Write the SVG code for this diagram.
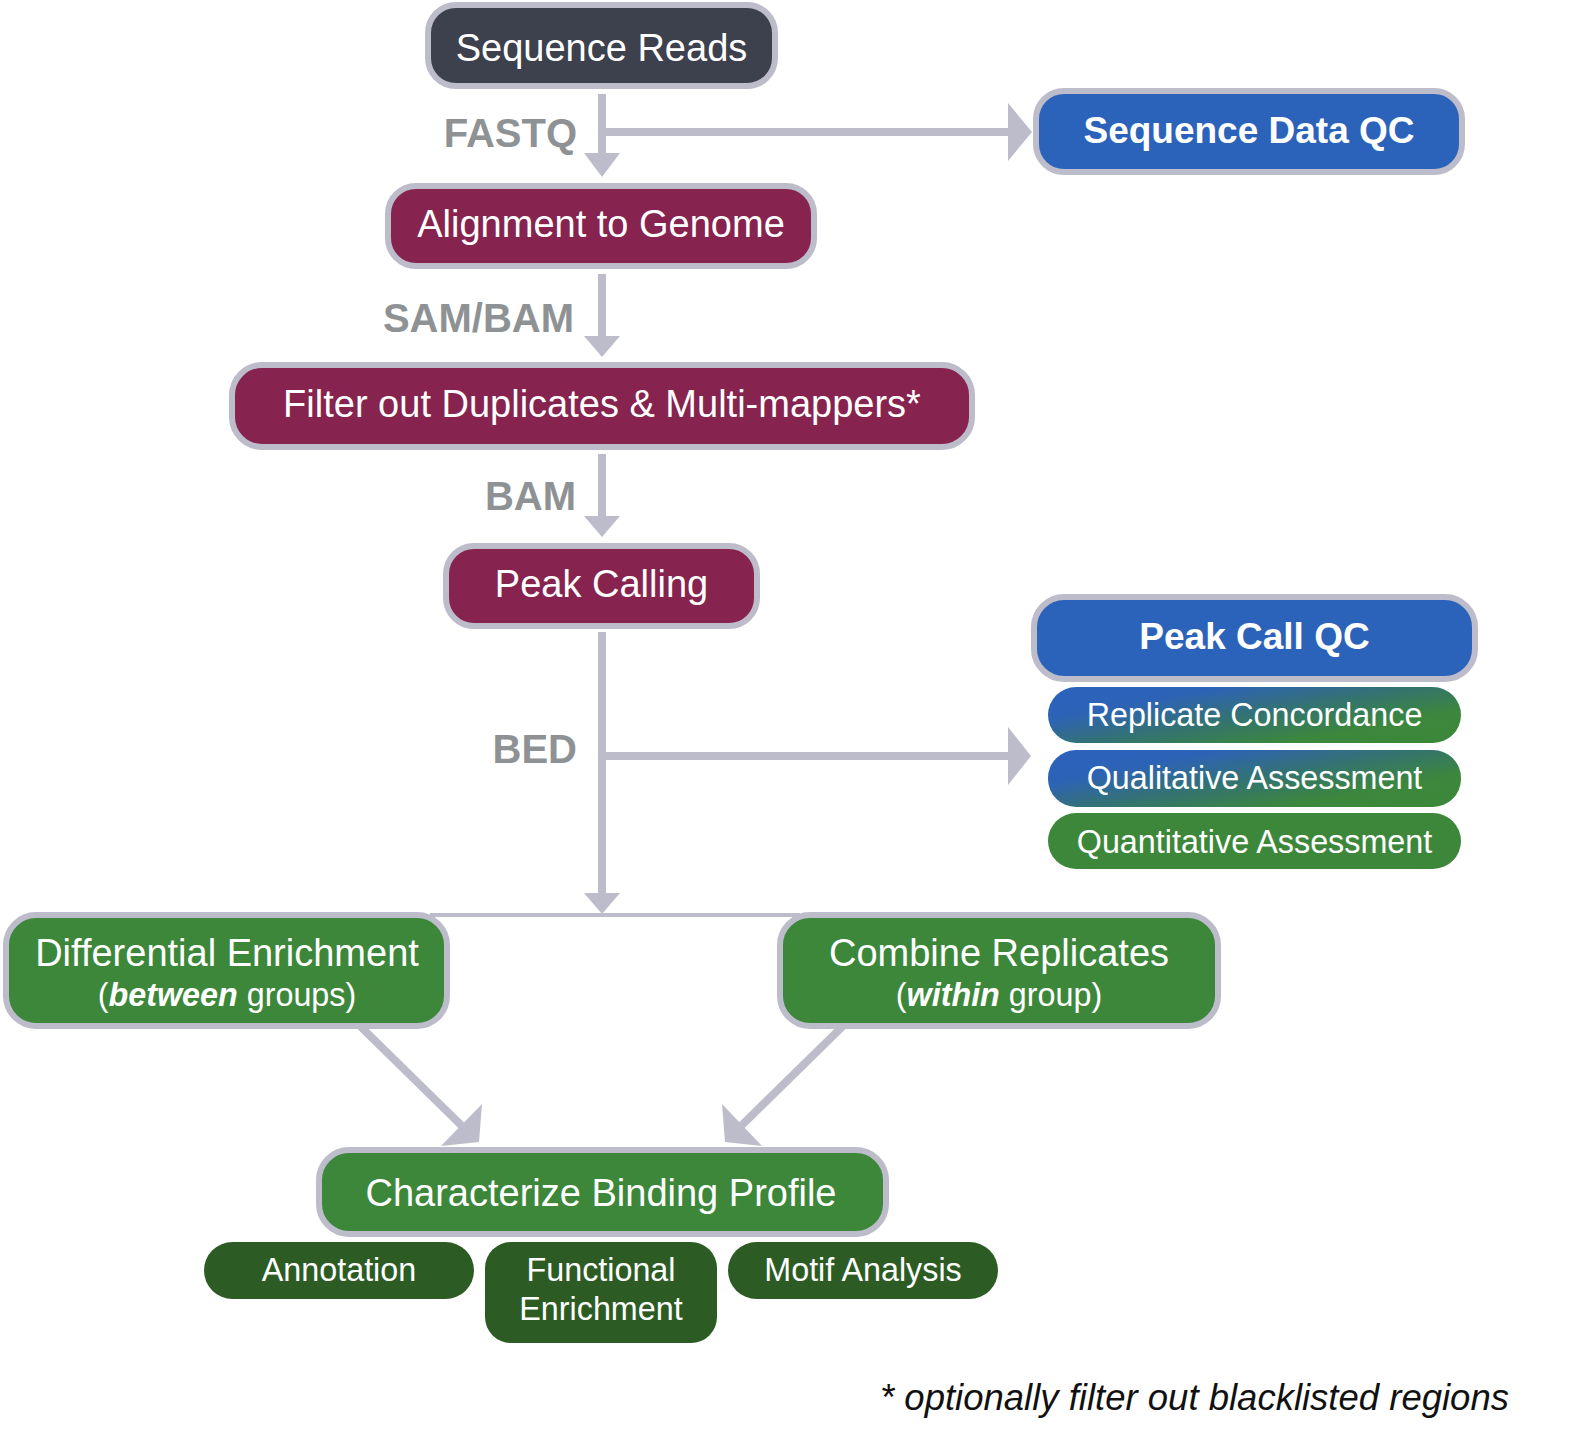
<svg xmlns="http://www.w3.org/2000/svg" width="1576" height="1444" viewBox="0 0 1576 1444">
<defs>
<linearGradient id="bg" x1="0.1" y1="0.2" x2="0.9" y2="0.8">
<stop offset="0" stop-color="#2c62b9"/>
<stop offset="0.15" stop-color="#2d63b5"/>
<stop offset="0.5" stop-color="#337371"/>
<stop offset="0.85" stop-color="#3b873d"/>
<stop offset="1" stop-color="#3c883b"/>
</linearGradient>
<style>
.box{stroke:#bdbcca;stroke-width:6}
.dark{fill:#3d404d}
.mar{fill:#86234f}
.blue{fill:#2c63ba}
.green{fill:#3d873b}
.dg{fill:#2c5c24}
.t{font-family:"Liberation Sans",Arial,sans-serif;fill:#ffffff;text-anchor:middle}
.m{font-size:38px}
.b{font-size:37px;font-weight:bold}
.s{font-size:32.3px}
.lbl{font-family:"Liberation Sans",Arial,sans-serif;font-size:40px;font-weight:bold;fill:#8e9294;text-anchor:end}
.ln{stroke:#bdbcca;stroke-width:8;fill:none}
.hd{fill:#bdbcca}
</style>
</defs>
<rect width="1576" height="1444" fill="#ffffff"/>

<g id="connectors">
<line class="ln" x1="602" y1="94" x2="602" y2="156"/>
<polygon class="hd" points="584,153 620,153 602,177"/>
<line class="ln" x1="602" y1="132" x2="1010" y2="132"/>
<polygon class="hd" points="1008,103 1008,161 1032,132"/>
<line class="ln" x1="602" y1="274" x2="602" y2="339"/>
<polygon class="hd" points="584,336 620,336 602,357"/>
<line class="ln" x1="602" y1="454" x2="602" y2="519"/>
<polygon class="hd" points="584,516 620,516 602,537"/>
<line class="ln" x1="602" y1="632" x2="602" y2="896"/>
<polygon class="hd" points="584,893 620,893 602,914"/>
<line class="ln" x1="602" y1="756" x2="1010" y2="756"/>
<polygon class="hd" points="1008,727 1008,785 1031,756"/>
<line x1="430" y1="915" x2="800" y2="915" stroke="#bdbcca" stroke-width="4"/>
<line class="ln" x1="360" y1="1026" x2="463" y2="1127"/>
<polygon class="hd" points="482,1104 441,1146 479,1142"/>
<line class="ln" x1="843" y1="1026" x2="740" y2="1127"/>
<polygon class="hd" points="722,1104 762,1146 725,1142"/>
<text class="lbl" x="577" y="147">FASTQ</text>
<text class="lbl" x="574" y="332">SAM/BAM</text>
<text class="lbl" x="576" y="510">BAM</text>
<text class="lbl" x="577" y="763">BED</text>
</g>

<g id="sequence-reads">
<rect class="box dark" x="428" y="5" width="347" height="81" rx="28"/>
<text class="t m" x="601.5" y="61">Sequence Reads</text>
</g>
<g id="sequence-data-qc">
<rect class="box blue" x="1036" y="91" width="426" height="81" rx="28"/>
<text class="t b" x="1249" y="143">Sequence Data QC</text>
</g>
<g id="alignment">
<rect class="box mar" x="388" y="186" width="426" height="80" rx="28"/>
<text class="t m" x="601" y="237">Alignment to Genome</text>
</g>
<g id="filter">
<rect class="box mar" x="232" y="365" width="740" height="82" rx="30"/>
<text class="t m" x="602" y="417">Filter out Duplicates &amp; Multi-mappers*</text>
</g>
<g id="peak-calling">
<rect class="box mar" x="446" y="546" width="311" height="80" rx="28"/>
<text class="t m" x="601.5" y="597">Peak Calling</text>
</g>
<g id="peak-call-qc">
<rect class="box blue" x="1034" y="597" width="441" height="82" rx="30"/>
<text class="t b" x="1254.5" y="649">Peak Call QC</text>
</g>
<g id="replicate-concordance">
<rect x="1048" y="687" width="413" height="56" rx="28" fill="url(#bg)"/>
<text class="t s" x="1254.5" y="726">Replicate Concordance</text>
</g>
<g id="qualitative-assessment">
<rect x="1048" y="750" width="413" height="57" rx="28" fill="url(#bg)"/>
<text class="t s" x="1254.5" y="789">Qualitative Assessment</text>
</g>
<g id="quantitative-assessment">
<rect class="green" x="1048" y="813" width="413" height="56" rx="28"/>
<text class="t s" x="1254.5" y="853">Quantitative Assessment</text>
</g>
<g id="differential-enrichment">
<rect class="box green" x="6" y="915" width="441" height="111" rx="30"/>
<text class="t m" x="227" y="966">Differential Enrichment</text>
<text class="t s" x="227" y="1006">(<tspan font-weight="bold" font-style="italic">between</tspan> groups)</text>
</g>
<g id="combine-replicates">
<rect class="box green" x="780" y="915" width="438" height="111" rx="30"/>
<text class="t m" x="999" y="966">Combine Replicates</text>
<text class="t s" x="999" y="1006">(<tspan font-weight="bold" font-style="italic">within</tspan> group)</text>
</g>
<g id="characterize">
<rect class="box green" x="319" y="1150" width="567" height="84" rx="30"/>
<text class="t m" x="601" y="1206">Characterize Binding Profile</text>
</g>
<g id="annotation">
<rect class="dg" x="204" y="1242" width="270" height="57" rx="28.5"/>
<text class="t s" x="339" y="1281">Annotation</text>
</g>
<g id="functional-enrichment">
<rect class="dg" x="485" y="1242" width="232" height="101" rx="26"/>
<text class="t s" x="601" y="1281">Functional</text>
<text class="t s" x="601" y="1320">Enrichment</text>
</g>
<g id="motif-analysis">
<rect class="dg" x="728" y="1242" width="270" height="57" rx="28.5"/>
<text class="t s" x="863" y="1281">Motif Analysis</text>
</g>
<g id="footnote">
<text x="880" y="1410" font-family="Liberation Sans, Arial, sans-serif" font-size="36.5" font-style="italic" fill="#111111">* optionally filter out blacklisted regions</text>
</g>
</svg>
